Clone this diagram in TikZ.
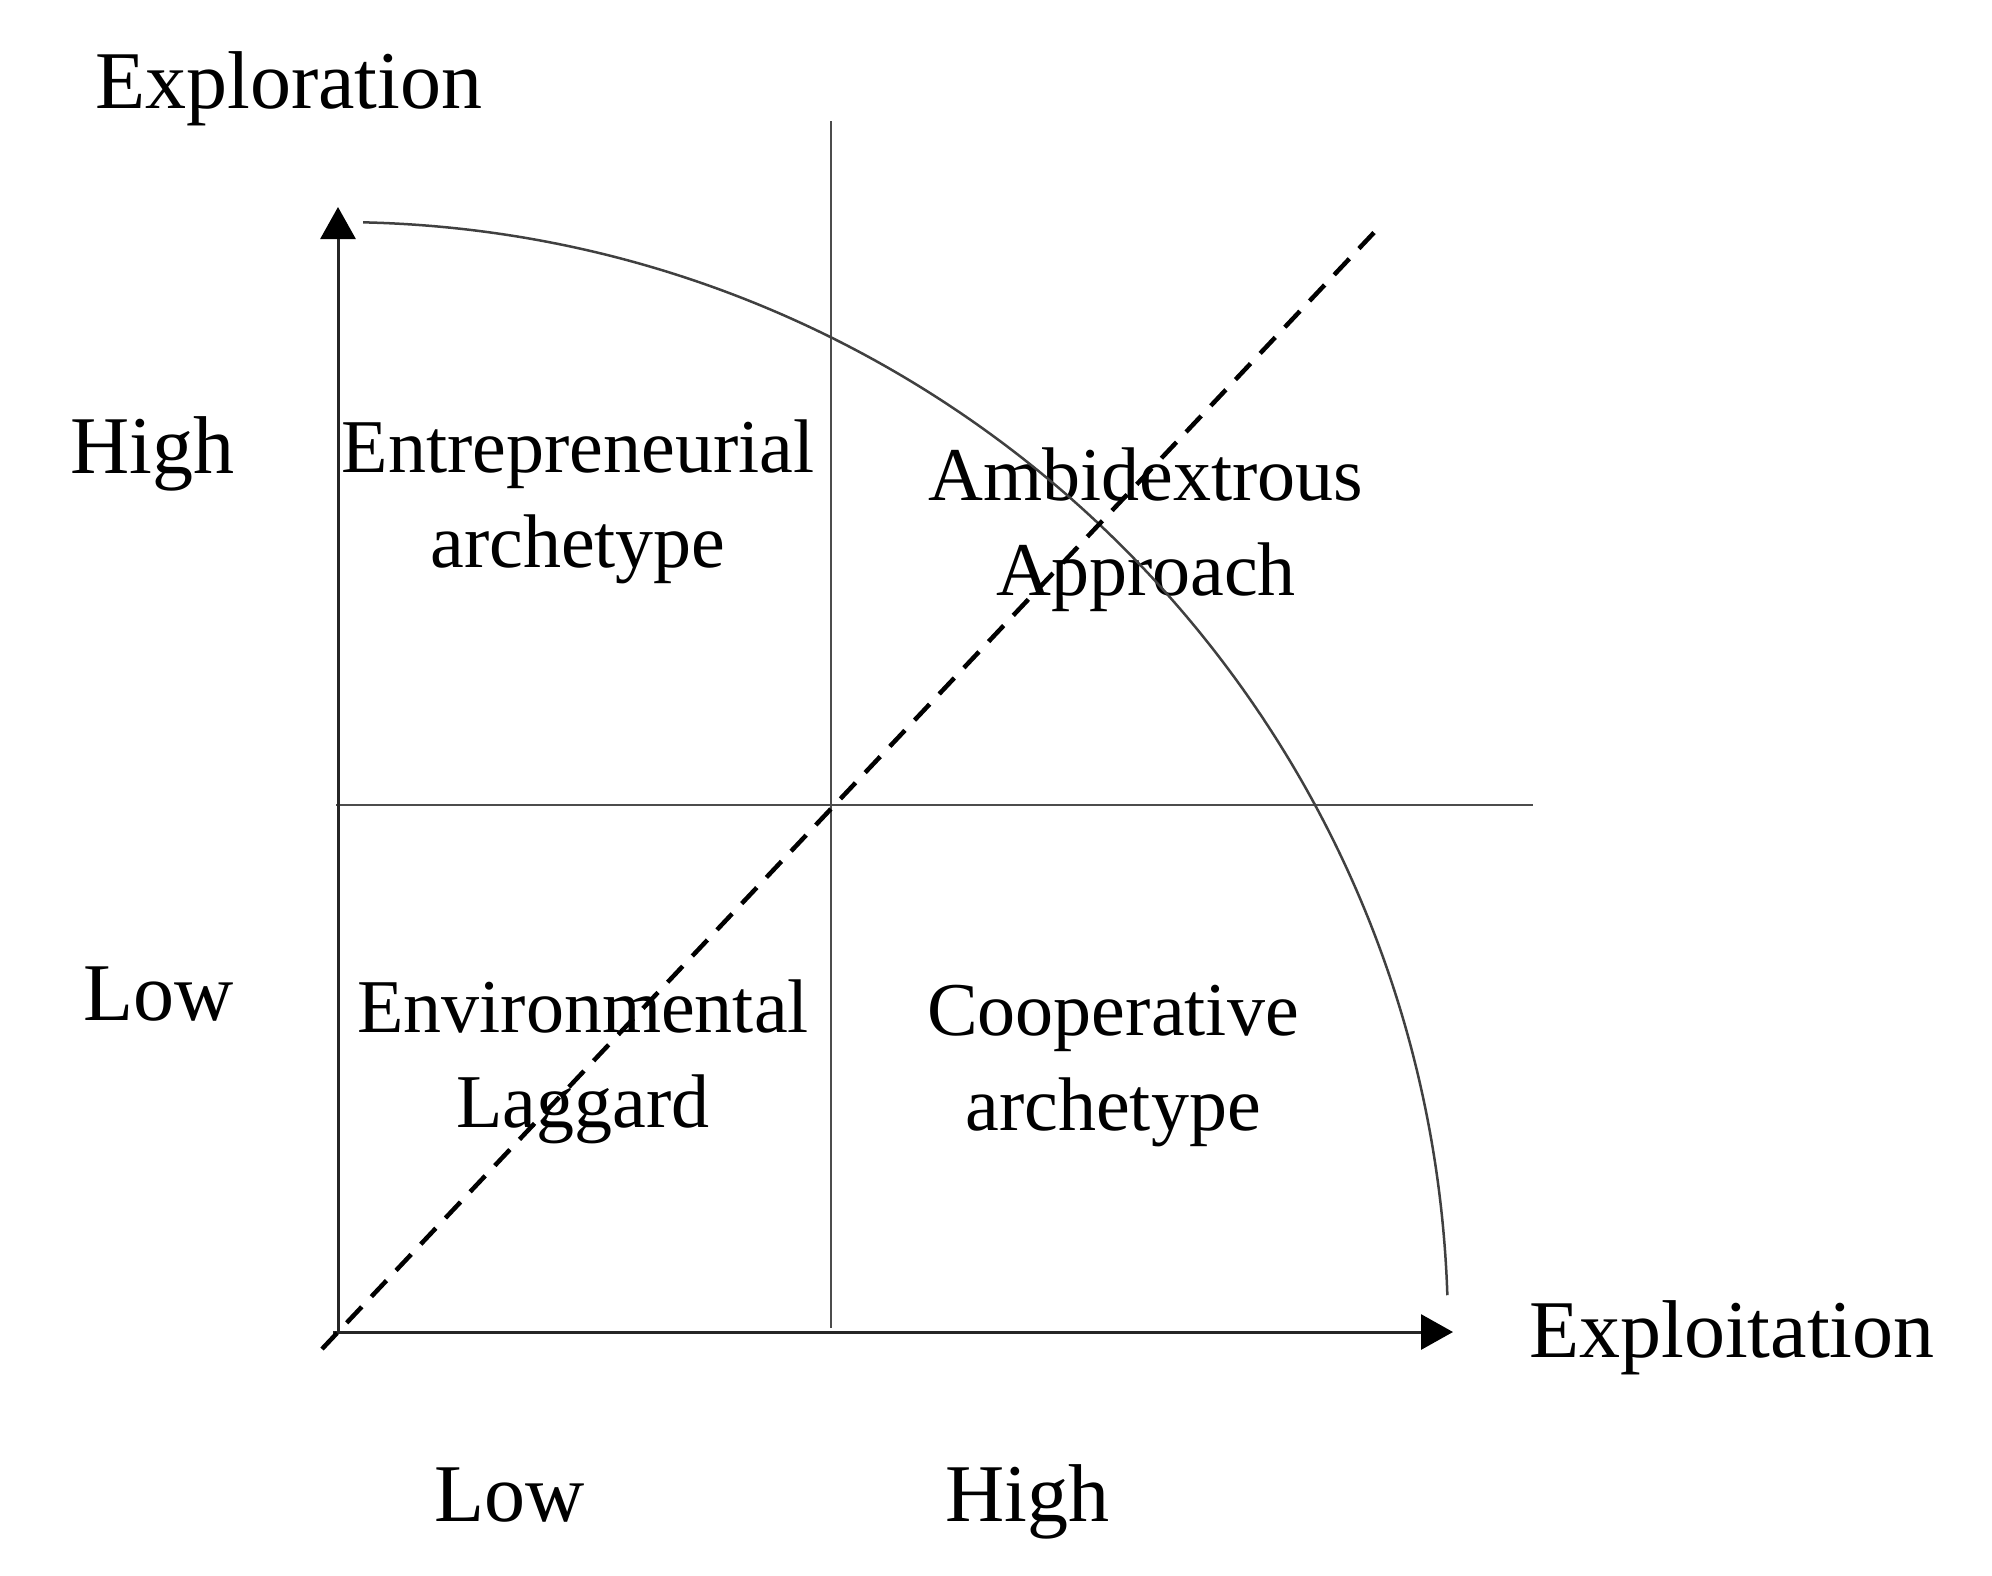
\documentclass[tikz,border=0pt]{standalone}
\usepackage{fontspec}
\setmainfont{Liberation Serif}
\usetikzlibrary{arrows.meta}
\begin{document}
\begin{tikzpicture}[x=1pt,y=-1pt,
  axis/.style={draw=black!85, line width=3pt, -{Triangle[width=35pt,length=32pt,black]}},
  divider/.style={draw=black!70, line width=2.5pt},
  frontier/.style={draw=black!75, line width=2.5pt},
  diag/.style={draw=black, line width=4.5pt, dash pattern=on 22pt off 14pt},
  quad/.style={font=\fontsize{76}{95}\selectfont, align=center, anchor=base, inner sep=0pt},
  lab/.style={font=\fontsize{82}{95}\selectfont, anchor=base west, inner sep=0pt}]
\useasboundingbox (0,0) rectangle (1992,1575);
\coordinate (O) at (338,1332);
\coordinate (ytip) at (338,207);
\coordinate (xstart) at (333,1332);
\coordinate (xtip) at (1453,1332);
\coordinate (vtop) at (831,121);
\coordinate (vbot) at (831,1328);
\coordinate (hl) at (336,805);
\coordinate (hr) at (1533,805);
\coordinate (dstart) at (322,1349);
\coordinate (dend) at (1383,223);
% quadrant labels (anchor base = baseline of last line)
\node[quad] (ent) at (578,567) {Entrepreneurial\\archetype};
\node[quad] (amb) at (1146,595) {Ambidextrous\\Approach};
\node[quad] (env) at (583,1127) {Environmental\\Laggard};
\node[quad] (coop) at (1113,1130) {Cooperative\\archetype};
% axis labels
\node[lab] (explor) at (95,108) {Exploration};
\node[lab] (exploit) at (1529,1357) {Exploitation};
\node[lab] (yhigh) at (70,473) {High};
\node[lab] (ylow) at (83,1020) {Low};
\node[lab] (xlow) at (434,1521) {Low};
\node[lab] (xhigh) at (945,1521) {High};
% lines
\draw[divider] (vtop) -- (vbot);
\draw[divider] (hl) -- (hr);
\draw[frontier] (O) ++(-88.7:1110) arc[start angle=-88.7, end angle=-1.9, radius=1110];
\draw[axis] (O) -- (ytip);
\draw[axis] (xstart) -- (xtip);
\draw[diag] (dstart) -- (dend);
\end{tikzpicture}
\end{document}
